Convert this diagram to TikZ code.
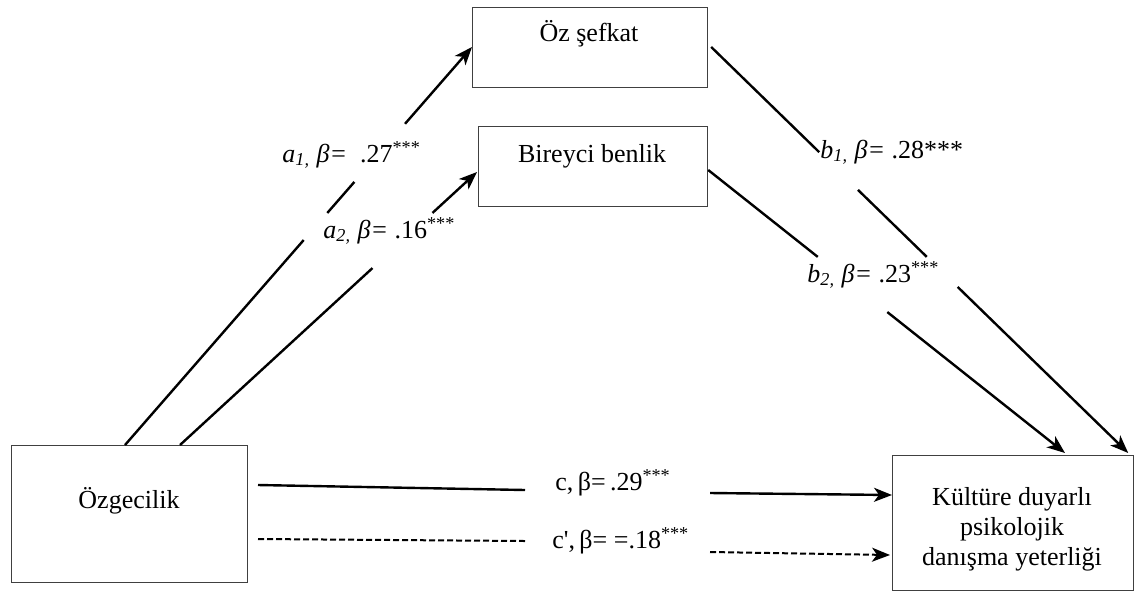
\documentclass[tikz,border=0pt]{standalone}
\usepackage{fontspec}
\setmainfont{Liberation Serif}
\usetikzlibrary{arrows.meta,calc}
\begin{document}
\begin{tikzpicture}[x=0.5pt,y=-0.5pt,
  box/.style={draw=black!75,line width=0.6pt,rectangle,inner sep=0pt,anchor=north west},
  txt/.style={font=\fontsize{13}{15}\selectfont,align=center,inner sep=0pt,anchor=base},
  lbl/.style={font=\fontsize{13}{15}\selectfont,inner sep=0pt,anchor=base west},
  conn/.style={line width=1.2pt,black},
  arr/.style={conn,-{Stealth[length=9pt,width=7pt,inset=2.5pt]}},
  dconn/.style={conn,line width=1pt,dash pattern=on 3pt off 1.5pt},
]
\useasboundingbox (0,0) rectangle (1143,594);

% boxes
\node[box,minimum width=117.5pt,minimum height=40pt] (ozs) at (472,7) {};
\node[box,minimum width=114.5pt,minimum height=40pt] (bir) at (478,126) {};
\node[box,minimum width=118pt,minimum height=68.5pt] (ozg) at (11,445) {};
\node[box,minimum width=120.5pt,minimum height=67.5pt] (kul) at (892,455) {};

% box texts
\node[txt] (ozst) at (589,41) {Öz şefkat};
\node[txt] (birt) at (592,162) {Bireyci benlik};
\node[txt] (ozgt) at (129,508) {Özgecilik};
\node[txt] (kult1) at (1012,505) {Kültüre duyarlı};
\node[txt] (kult2) at (1012,535) {psikolojik};
\node[txt] (kult3) at (1012,565) {danışma yeterliği};

% connector end points on boxes
\coordinate (a1s) at ($(ozg.north west)+(114,0)$);
\coordinate (a1e) at ($(ozs.north west)+(0,40)$);
\coordinate (a2s) at ($(ozg.north west)+(169,0)$);
\coordinate (a2e) at ($(bir.north west)+(-1,46)$);
\coordinate (b1s) at ($(ozs.north east)+(3,40)$);
\coordinate (b1e) at ($(kul.north east)+(-6,-2)$);
\coordinate (b2s) at ($(bir.north east)+(0,44)$);
\coordinate (b2e) at ($(kul.north west)+(173,-2)$);

% a1 path with gaps
\draw[conn] (a1s) -- ($(a1s)!0.515!(a1e)$);
\draw[conn] ($(a1s)!0.583!(a1e)$) -- ($(a1s)!0.661!(a1e)$);
\draw[arr] ($(a1s)!0.807!(a1e)$) -- (a1e);
% a2
\draw[conn] (a2s) -- ($(a2s)!0.648!(a2e)$);
\draw[arr] ($(a2s)!0.850!(a2e)$) -- (a2e);
% b1
\draw[conn] (b1s) -- ($(b1s)!0.259!(b1e)$);
\draw[conn] ($(b1s)!0.352!(b1e)$) -- ($(b1s)!0.517!(b1e)$);
\draw[arr] ($(b1s)!0.591!(b1e)$) -- (b1e);
% b2
\draw[conn] (b2s) -- ($(b2s)!0.307!(b2e)$);
\draw[arr] ($(b2s)!0.502!(b2e)$) -- (b2e);

% c and c'
\coordinate (cs) at (258,485);
\coordinate (cm1) at (525,490);
\coordinate (cm2) at (710,493);
\coordinate (ce) at ($(kul.north west)+(0,40)$);
\draw[conn] (cs) -- (cm1);
\draw[arr] (cm2) -- (ce);
\coordinate (ds) at (258,539);
\coordinate (dm1) at (525,541);
\coordinate (dm2) at (710,552);
\coordinate (de) at ($(kul.north west)+(-2,100)$);
\draw[dconn] (ds) -- (dm1);
\draw[dconn,-{Stealth[length=9pt,width=7pt,inset=2.5pt]}] (dm2) -- (de);

% labels
\node[lbl] (la1) at (282,162) {\textit{a\textsubscript{1,} β=}\ \ .27\textsuperscript{***}};
\node[lbl] (la2) at (323,238) {\textit{a\textsubscript{2,} β=} .16\textsuperscript{***}};
\node[lbl] (lb1) at (820,158) {\textit{b\textsubscript{1,} β=} .28***};
\node[lbl] (lb2) at (807,282) {\textit{b\textsubscript{2,} β=} .23\textsuperscript{***}};
\node[lbl] (lc) at (555,490) {c,\,β=\,.29\textsuperscript{***}};
\node[lbl] (lcp) at (552,548) {c\textquotesingle,\,β= =.18\textsuperscript{***}};
\end{tikzpicture}
\end{document}
